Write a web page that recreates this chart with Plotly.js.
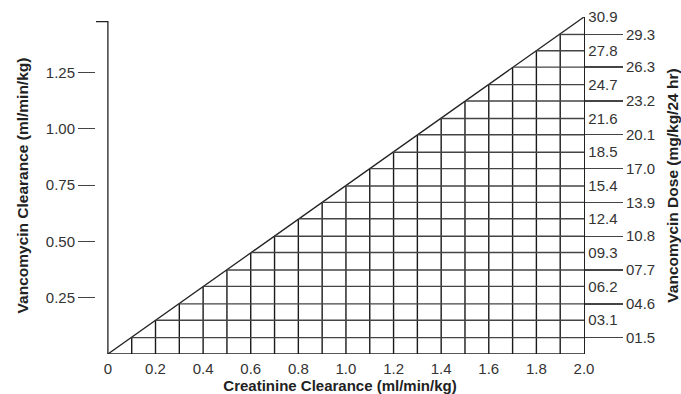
<!DOCTYPE html>
<html>
<head>
<meta charset="utf-8">
<script src="https://cdn.plot.ly/plotly-3.0.1.min.js"></script>
<style>html,body{margin:0;padding:0;background:#fff;}#chart{width:681px;height:394px;}</style>
</head>
<body>
<div id="chart"></div>
<script>
// ---- data ----
const creatinineTicks = [0, 0.2, 0.4, 0.6, 0.8, 1.0, 1.2, 1.4, 1.6, 1.8, 2.0];
const creatinineLabels = ["0", "0.2", "0.4", "0.6", "0.8", "1.0", "1.2", "1.4", "1.6", "1.8", "2.0"];
const creatinineGrid = [0.1, 0.2, 0.3, 0.4, 0.5, 0.6, 0.7, 0.8, 0.9, 1.0, 1.1, 1.2, 1.3, 1.4, 1.5, 1.6, 1.7, 1.8, 1.9];
const vancoTicks = [0.25, 0.5, 0.75, 1.0, 1.25];
const vancoLabels = ["0.25", "0.50", "0.75", "1.00", "1.25"];
const doseValues = [1.5, 3.1, 4.6, 6.2, 7.7, 9.3, 10.8, 12.4, 13.9, 15.4, 17.0, 18.5, 20.1, 21.6, 23.2, 24.7, 26.3, 27.8, 29.3, 30.9];
const doseLabels = ["01.5", "03.1", "04.6", "06.2", "07.7", "09.3", "10.8", "12.4", "13.9", "15.4", "17.0", "18.5", "20.1", "21.6", "23.2", "24.7", "26.3", "27.8", "29.3", "30.9"];
const maxCreatinine = 2.0;
const maxVanco = 1.497;   // vancomycin clearance at the top of the nomogram
const maxDose = 30.9;

// ---- build traces ----
const lineCol = '#222';
const vx = [], vy = [];
creatinineGrid.forEach(c => { vx.push(c, c, null); vy.push(0, maxVanco * c / maxCreatinine, null); });
const hx = [], hy = [];
doseValues.slice(0, -1).forEach(d => { hx.push(maxCreatinine * d / maxDose, maxCreatinine, null); hy.push(d, d, null); });

const traces = [
  {x: vx, y: vy, mode: 'lines', line: {color: '#1a1a1a', width: 1.4}, hoverinfo: 'skip', showlegend: false},
  {x: hx, y: hy, yaxis: 'y2', mode: 'lines', line: {color: '#444', width: 1.4}, hoverinfo: 'skip', showlegend: false},
  // outline: left axis with hook, bottom line, diagonal
  {x: [-0.05, 0, 0, maxCreatinine], y: [maxVanco * 0.986, maxVanco * 0.986, 0, 0], mode: 'lines', line: {color: lineCol, width: 1.3}, hoverinfo: 'skip', showlegend: false},
  {x: [0, maxCreatinine], y: [0, maxVanco], mode: 'lines', line: {color: lineCol, width: 1.3}, hoverinfo: 'skip', showlegend: false}
];

const odd = doseValues.filter((d, i) => i % 2 === 1);
const oddL = doseLabels.filter((d, i) => i % 2 === 1);
const even = doseValues.filter((d, i) => i % 2 === 0);
const evenL = doseLabels.filter((d, i) => i % 2 === 0);

const tickFont = {family: 'Liberation Sans, Arial, sans-serif', size: 15, color: '#333'};
const titleFont = {family: 'Liberation Sans, Arial, sans-serif', size: 15.5, color: '#222', weight: 'bold'};

const layout = {
  width: 681, height: 394,
  margin: {l: 96, r: 97, t: 17, b: 40},
  paper_bgcolor: '#fff', plot_bgcolor: '#fff',
  showlegend: false,
  xaxis: {
    range: [-0.05, maxCreatinine], tickvals: creatinineTicks, ticktext: creatinineLabels,
    showgrid: false, zeroline: false, showline: false, ticks: '', tickfont: tickFont, ticklabelstandoff: 4,
    title: {text: 'Creatinine Clearance (ml/min/kg)', font: {family: titleFont.family, size: 15, color: '#222', weight: 'bold'}, standoff: 3}
  },
  yaxis: {
    range: [0, maxVanco], tickvals: vancoTicks, ticktext: vancoLabels,
    showgrid: false, zeroline: false, showline: false, ticks: 'outside', ticklen: 17, tickcolor: '#444', tickwidth: 1.2,
    tickfont: tickFont,
    title: {text: 'Vancomycin Clearance (ml/min/kg)', font: titleFont, standoff: 13}
  },
  yaxis2: {
    range: [0, maxDose], overlaying: 'y', side: 'right', anchor: 'x',
    tickvals: odd, ticktext: oddL, ticks: '', showgrid: false, zeroline: false,
    showline: true, linecolor: lineCol, linewidth: 1.3, tickfont: tickFont
  },
  yaxis3: {
    range: [0, maxDose], overlaying: 'y', side: 'right', anchor: 'x',
    tickvals: even, ticktext: evenL, ticks: 'outside', ticklen: 38, tickcolor: '#444', tickwidth: 1.4,
    showgrid: false, zeroline: false, showline: false, tickfont: tickFont,
    title: {text: 'Vancomycin Dose (mg/kg/24 hr)', font: titleFont, standoff: 14}
  }
};
traces.push({x: [null], y: [null], yaxis: 'y3', hoverinfo: 'skip', showlegend: false});

Plotly.newPlot('chart', traces, layout, {displayModeBar: false, staticPlot: true});
</script>
</body>
</html>
